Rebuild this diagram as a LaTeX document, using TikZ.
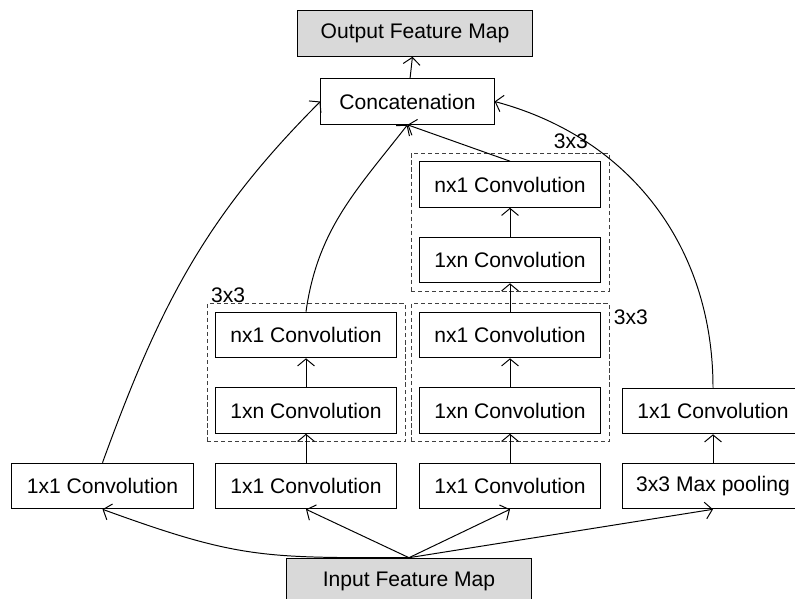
\documentclass[tikz,border=0pt]{standalone}
\usepackage{fontspec}
\setmainfont{Liberation Sans}
\usepackage{tikz}
\usetikzlibrary{arrows.meta,fit}
\definecolor{boxgray}{RGB}{217,217,217}

\begin{document}
\begin{tikzpicture}[x=0.025cm,y=0.025cm,line width=0.7pt,
  b/.style={draw,minimum width=4.525cm,minimum height=1.14cm,inner sep=0pt,font=\fontsize{15}{18}\selectfont},
  g/.style={b,fill=boxgray},
  d/.style={draw=black!75,dash pattern=on 3pt off 2pt,line width=0.6pt,inner sep=0.2cm},
  t/.style={inner sep=0pt,font=\fontsize{15}{18}\selectfont},
  >={Straight Barb[length=5pt,width=12pt]}]
  \useasboundingbox (0,0) rectangle (795,598);
  % top
  \node[g,minimum width=5.85cm](out) at (415,564.5){Output Feature Map};
  \node[b,minimum width=4.33cm](cat) at (407.5,496.5){Concatenation};
  % 3x3 blocks
  \node[b](tn) at (510,413.5){nx1 Convolution};
  \node[b](tx) at (510,338){1xn Convolution};
  \node[b](ln) at (306,263){nx1 Convolution};
  \node[b](lx) at (306,187.5){1xn Convolution};
  \node[b](mn) at (510,263){nx1 Convolution};
  \node[b](mx) at (510,187.5){1xn Convolution};
  \node[b](r1) at (713,187){1x1 Convolution};
  % bottom row
  \node[b](c1) at (102.5,112){1x1 Convolution};
  \node[b](c2) at (306,112){1x1 Convolution};
  \node[b](c3) at (510,112){1x1 Convolution};
  \node[b](mp) at (713,112){3x3 Max pooling};
  \node[g,minimum width=6.1cm](in) at (409,17){Input Feature Map};
  \node[d,fit=(ln)(lx)](dl){};
  \node[d,fit=(mn)(mx)](dm){};
  \node[d,fit=(tn)(tx)](dt){};
  \node[t,anchor=base west](l1) at ([shift={(4,1)}]dl.north west){3x3};
  \node[t,anchor=base west](l2) at ([shift={(4,-21)}]dm.north east){3x3};
  \node[t,anchor=base east](l3) at ([shift={(-21,4)}]dt.north east){3x3};
  \path[->](cat) edge (out);
  \path[->](lx) edge (ln);
  \path[->](mx) edge (mn);
  \path[->](mn) edge (tx);
  \path[->](tx) edge (tn);
  \path[->](c2) edge (lx);
  \path[->](c3) edge (mx);
  \path[->](mp) edge (r1);
  \path[->](in.north) edge (c2.south) edge (c3.south) edge (mp.south);
  \path[->](in.north) edge[out=180,in=-20,looseness=1.2] (c1.south);
  \path[->](c1.north) edge[out=70,in=-135] (cat.west);
  \path[->](ln.north) edge[out=82,in=-128] (cat.south);
  \path[->](tn.north) edge (cat.south);
  \path[->](r1.north) edge[out=90,in=-15] (cat.east);
\end{tikzpicture}
\end{document}
